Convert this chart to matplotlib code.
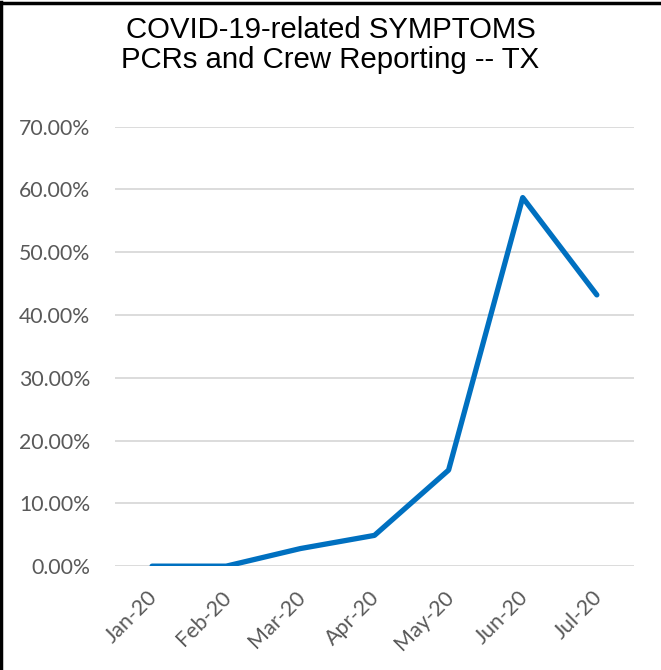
import matplotlib
matplotlib.use('Agg')
import matplotlib.pyplot as plt
import matplotlib.transforms as mtransforms
from matplotlib.lines import Line2D
from matplotlib.ticker import FuncFormatter

months = ['Jan-20', 'Feb-20', 'Mar-20', 'Apr-20', 'May-20', 'Jun-20', 'Jul-20']
symptom_pct = [0.0, 0.0, 2.8, 4.9, 15.3, 58.7, 43.2]

fig = plt.figure(figsize=(6.61, 6.70), dpi=100)
ax = fig.add_axes([0.174, 0.155, 0.785, 0.656])

x = list(range(len(months)))
ax.plot(x, symptom_pct, color='#0070C0', lw=3.8, solid_capstyle='round',
        solid_joinstyle='round', zorder=3)

ax.set_xlim(-0.5, len(months) - 0.5)
ax.set_ylim(0, 70)
ax.set_yticks(range(0, 71, 10))
ax.yaxis.set_major_formatter(FuncFormatter(lambda v, p: '{:.2f}%'.format(v)))
ax.set_xticks(x)
ax.set_xticklabels(months, rotation=45, ha='right', rotation_mode='anchor')

ax.grid(axis='y', color='#D9D9D9', lw=1.3)
ax.set_axisbelow(True)
for s in ax.spines.values():
    s.set_visible(False)
ax.tick_params(length=0, labelcolor='#595959')
ax.tick_params(axis='y', pad=18, labelsize=15.3)
ax.tick_params(axis='x', pad=15, labelsize=15.5)

# nudge the slanted month labels left so their ends sit under the points
shift = mtransforms.ScaledTranslation(-5 / 100, 0, fig.dpi_scale_trans)
for lbl in ax.get_xticklabels():
    lbl.set_fontfamily('Lato')
    lbl.set_transform(lbl.get_transform() + shift)
for lbl in ax.get_yticklabels():
    lbl.set_fontfamily('Lato')

fig.text(0.5, 0.976, 'COVID-19-related SYMPTOMS\nPCRs and Crew Reporting -- TX',
         ha='center', va='top', fontsize=21.2, family='Liberation Sans',
         linespacing=1.1)

# frame along top and left edge
fig.add_artist(Line2D([0.002, 0.002], [0, 0.997], transform=fig.transFigure,
                      color='black', lw=2.5))
fig.add_artist(Line2D([0, 1], [0.996, 0.996], transform=fig.transFigure,
                      color='black', lw=2.5))

fig.savefig('out.png', dpi=100)
